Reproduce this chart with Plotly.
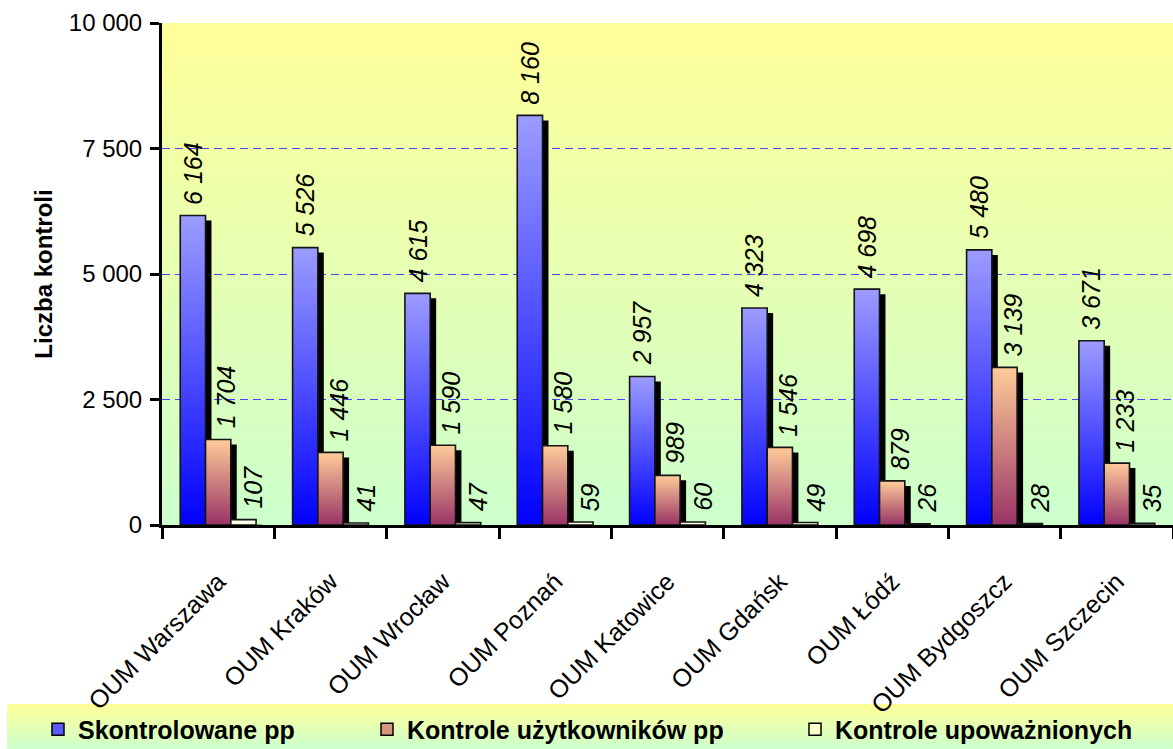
import base64
import plotly.graph_objects as go

# ---------------- data ----------------
categories = ["OUM Warszawa", "OUM Kraków", "OUM Wrocław", "OUM Poznań", "OUM Katowice",
              "OUM Gdańsk", "OUM Łódź", "OUM Bydgoszcz", "OUM Szczecin"]
skontrolowane = [6164, 5526, 4615, 8160, 2957, 4323, 4698, 5480, 3671]
uzytkownikow = [1704, 1446, 1590, 1580, 989, 1546, 879, 3139, 1233]
upowaznionych = [107, 41, 47, 59, 60, 49, 26, 28, 35]
series_names = ["Skontrolowane pp", "Kontrole użytkowników pp", "Kontrole upoważnionych"]
y_tick_values = [0, 2500, 5000, 7500, 10000]
y_title = "Liczba kontroli"

# ---------------- style ----------------
FONT = "Liberation Sans, Arial, sans-serif"
BAR_W = 0.225          # bar width in category units
SHADOW_DX = 0.053      # shadow offset (category units)
SHADOW_DY = 100        # shadow offset (value units)

series = [
    dict(name=series_names[0], values=skontrolowane, top="#9C9CFF", bottom="#0000FF",
         swatch="#5A5AFF", legend="legend", label_dx=0),
    dict(name=series_names[1], values=uzytkownikow, top="#FFCC99", bottom="#993366",
         swatch="#D9967F", legend="legend2", label_dx=8),
    dict(name=series_names[2], values=upowaznionych, top="#FFFFFF", bottom="#FFFFCC",
         swatch="#FFFFCC", legend="legend3", label_dx=10),
]


def fmt(v):
    return f"{v:,}".replace(",", " ")


def gradient_uri(top, bottom):
    svg = ('<svg xmlns="http://www.w3.org/2000/svg" width="100" height="100" '
           'viewBox="0 0 100 100" preserveAspectRatio="none"><defs>'
           '<linearGradient id="g" x1="0" y1="0" x2="0" y2="1">'
           f'<stop offset="0" stop-color="{top}"/><stop offset="1" stop-color="{bottom}"/>'
           '</linearGradient></defs><rect x="0" y="0" width="100" height="100" fill="url(#g)"/></svg>')
    return "data:image/svg+xml;base64," + base64.b64encode(svg.encode("utf-8")).decode("ascii")


fig = go.Figure()
n_series = len(series)
for k, s in enumerate(series):
    offset = (k - (n_series - 1) / 2) * BAR_W
    # drop shadows
    for i, v in enumerate(s["values"]):
        x0 = i + offset - BAR_W / 2 + SHADOW_DX
        x1 = x0 + BAR_W
        fig.add_trace(go.Scatter(
            x=[x0, x1, x1, x0, x0],
            y=[-SHADOW_DY, -SHADOW_DY, v - SHADOW_DY, v - SHADOW_DY, -SHADOW_DY],
            fill="toself", fillcolor="black", mode="none",
            showlegend=False, hoverinfo="skip"))
    # gradient bars
    for i, v in enumerate(s["values"]):
        x0 = i + offset - BAR_W / 2
        x1 = x0 + BAR_W
        fig.add_trace(go.Scatter(
            x=[x0, x1, x1, x0, x0], y=[0, 0, v, v, 0],
            fill="toself",
            fillgradient=dict(type="vertical", colorscale=[[0, s["bottom"]], [1, s["top"]]]),
            mode="lines", line=dict(color="#151515", width=1.6),
            name=s["name"], showlegend=False,
            hovertemplate=f"{categories[i]}<br>{s['name']}: {fmt(v)}<extra></extra>"))
        fig.add_annotation(
            x=i + offset, y=v, text=fmt(v), textangle=-90, showarrow=False,
            xanchor="center", yanchor="bottom", yshift=10, xshift=s["label_dx"], borderpad=0,
            font=dict(family=FONT, size=25, color="black", style="italic"))
    # legend entry
    fig.add_trace(go.Bar(
        x=[None], y=[None], name=s["name"], legend=s["legend"],
        marker=dict(color=s["swatch"], line=dict(color="black", width=1.5))))

legend_common = dict(orientation="h", xref="container", yref="container", y=0.026,
                     yanchor="middle", xanchor="left", bgcolor="rgba(0,0,0,0)",
                     font=dict(family=FONT, size=25, color="black", weight="bold"))

boundaries = [i - 0.5 for i in range(len(categories) + 1)]

fig.update_layout(
    width=1173, height=749,
    margin=dict(l=162, r=0, t=23, b=224, autoexpand=False),
    paper_bgcolor="white", plot_bgcolor="rgba(0,0,0,0)",
    separators=", ",
    font=dict(family=FONT, color="black"),
    barmode="overlay",
    showlegend=True,
    legend=dict(x=38 / 1173, **legend_common),
    legend2=dict(x=367 / 1173, **legend_common),
    legend3=dict(x=795 / 1173, **legend_common),
    xaxis=dict(
        range=[-0.5, len(categories) - 0.5], tickmode="array",
        tickvals=list(range(len(categories))), ticktext=categories, tickangle=-45,
        ticks="", showline=True, linecolor="black", linewidth=3, showgrid=False,
        zeroline=False, tickfont=dict(family=FONT, size=25, color="black"),
        ticklabelstandoff=29, automargin=False,
        minor=dict(tickmode="array", tickvals=boundaries, ticks="outside", ticklen=11,
                   tickwidth=3, tickcolor="black", showgrid=False)),
    xaxis2=dict(
        overlaying="x", matches="x", anchor="y", tickmode="array", tickvals=boundaries,
        ticks="inside", ticklen=10, tickwidth=3, tickcolor="black", showticklabels=False,
        showgrid=False, showline=False, zeroline=False),
    yaxis=dict(
        range=[0, 10000], tickmode="array", tickvals=y_tick_values, tickformat=",d",
        ticks="outside", ticklen=9, tickwidth=3, tickcolor="black",
        showline=True, linecolor="black", linewidth=3, automargin=False,
        showgrid=True, gridcolor="#4646FF", gridwidth=1, griddash="8px,5px",
        zeroline=False, tickfont=dict(family=FONT, size=24, color="black"),
        ticklabelstandoff=3,
        title=dict(text=y_title, standoff=10,
                   font=dict(family=FONT, size=24, color="black", weight="bold"))),
    images=[
        dict(source=gradient_uri("#FFFF99", "#CCFFCC"), xref="paper", yref="paper",
             x=0, y=1, sizex=1, sizey=1, xanchor="left", yanchor="top",
             sizing="stretch", layer="below"),
        dict(source=gradient_uri("#FFFF99", "#CCFFCC"), xref="paper", yref="paper",
             x=(7 - 162) / 1011, y=(525 - 704) / 502, sizex=(1173 - 7) / 1011, sizey=45 / 502,
             xanchor="left", yanchor="top", sizing="stretch", layer="below"),
    ],
)

# remove the browser's default 8px page margin so the figure fills the window exactly
fig.write_html("out.html", config={"displayModeBar": False},
               post_script="document.body.style.margin='0px';")
